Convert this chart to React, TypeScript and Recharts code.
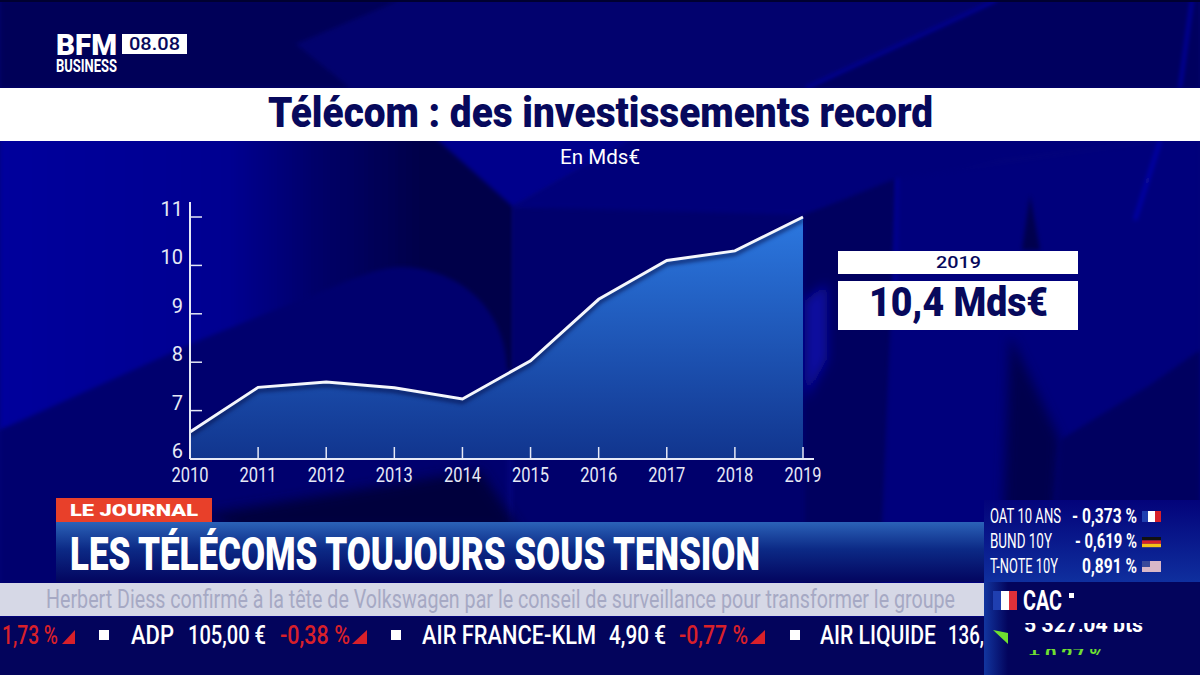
import React from 'react';
import { ComposedChart, Area, Line, XAxis, YAxis } from 'recharts';

const years = ['2010', '2011', '2012', '2013', '2014', '2015', '2016', '2017', '2018', '2019'];
const investments = [6.56, 7.48, 7.59, 7.47, 7.24, 8.03, 9.3, 10.1, 10.3, 11.0];
const yTicks = [6, 7, 8, 9, 10, 11];

const data = years.map((year, i) => ({ year, value: investments[i] }));

const font = 'Roboto, sans-serif';
const navy = '#07095c';
const axisColor = '#e6e9f6';

const XTick = ({ x, y, payload }: any) => (
  <g>
    {payload.value !== years[0] && <line x1={x} x2={x} y1={y} y2={y - 12} stroke={axisColor} strokeWidth={1.5} />}
    <text x={x} y={y + 23} textAnchor="middle" fontFamily={font} fontSize={20} fill={axisColor} textLength={37} lengthAdjust="spacingAndGlyphs">
      {payload.value}
    </text>
  </g>
);

const YTick = ({ x, y, payload }: any) => (
  <g>
    {payload.value !== yTicks[0] && <line x1={x} x2={x + 12} y1={y} y2={y} stroke={axisColor} strokeWidth={1.5} />}
    <text x={x - 7} y={y - 1} textAnchor="end" fontFamily={font} fontSize={20} fill={axisColor}>
      {payload.value}
    </text>
  </g>
);

// text squeezed to the measured width, the broadcast font is condensed
const T = ({ x, y, w, size, fill = '#fff', weight = 400, children }: any) => (
  <text x={x} y={y} fontFamily={font} fontSize={size} fontWeight={weight} fill={fill} textLength={w} lengthAdjust="spacingAndGlyphs">
    {children}
  </text>
);

const Background = () => (
  <svg width={1200} height={675} style={{ position: 'absolute', left: 0, top: 0 }}>
    <defs>
      <filter id="b20" filterUnits="userSpaceOnUse" x="-100" y="-100" width="1400" height="875"><feGaussianBlur stdDeviation="20" /></filter>
      <filter id="b6" filterUnits="userSpaceOnUse" x="-100" y="-100" width="1400" height="875"><feGaussianBlur stdDeviation="6" /></filter>
      <filter id="b2" filterUnits="userSpaceOnUse" x="-100" y="-100" width="1400" height="875"><feGaussianBlur stdDeviation="2" /></filter>
      <linearGradient id="leftGlow" x1="0" y1="0" x2="1" y2="0">
        <stop offset="0" stopColor="#00009c" />
        <stop offset="0.45" stopColor="#000090" />
        <stop offset="0.62" stopColor="#010168" />
        <stop offset="0.82" stopColor="#00004a" />
        <stop offset="1" stopColor="#00004a" />
      </linearGradient>
    </defs>
    <rect width={1200} height={675} fill="#03037a" />
    {/* top strip */}
    <rect x={0} y={0} width={1200} height={88} fill="#02026e" />
    <polygon points="0,0 400,0 296,44 350,88 0,88" fill="#020258" filter="url(#b2)" />
    <polygon points="997,0 1200,0 1200,88 806,88" fill="#02025f" filter="url(#b2)" />
    <line x1={806} y1={88} x2={997} y2={0} stroke="#0808a0" strokeWidth={3} filter="url(#b2)" />
    <line x1={1180} y1={88} x2={1192} y2={0} stroke="#0808a8" strokeWidth={3} filter="url(#b2)" />
    <rect x={0} y={0} width={1200} height={2} fill="#000030" />
    {/* left side */}
    <polygon points="0,135 513,135 513,370 0,430" fill="url(#leftGlow)" filter="url(#b2)" />
    <path d="M0,430 L200,340 L300,300 C350,280 380,266 402,267 C450,268 505,300 507,370 L507,590 L0,590 Z" fill="#02026e" filter="url(#b2)" />
    <polygon points="432,135 513,207 640,135" fill="#00008c" filter="url(#b2)" />
    <polygon points="513,207 900,178 900,590 513,590" fill="#02026c" filter="url(#b2)" />
    <polygon points="513,207 640,135 1200,135 1000,160 805,215" fill="#03037a" filter="url(#b2)" />
    <polygon points="200,515 480,470 520,530 240,530" fill="#00003e" filter="url(#b6)" />
    {/* right side */}
    <polygon points="805,215 897,178 880,590 805,590" fill="#01015e" filter="url(#b2)" />
    <polygon points="897,178 1200,135 1200,590 880,590" fill="#03037c" filter="url(#b2)" />
    <polygon points="1030,195 1022,250 1040,250" fill="#01014e" filter="url(#b2)" />
    <polygon points="1010,335 1060,440 1050,590 1000,590" fill="#01014e" filter="url(#b6)" />
    <polygon points="1060,440 1150,385 1200,350 1200,590 1050,590" fill="#020260" filter="url(#b2)" />
    <line x1={1160} y1={141} x2={1135} y2={220} stroke="#0808a8" strokeWidth={4} filter="url(#b2)" />
    <line x1={897} y1={178} x2={895} y2={300} stroke="#04049a" strokeWidth={3} filter="url(#b2)" />
    <polygon points="805,300 827,283 827,360 805,400" fill="#0707a0" filter="url(#b6)" />
  </svg>
);

const Overlay = () => (
  <svg width={1200} height={675} style={{ position: 'absolute', left: 0, top: 0 }}>
    <defs>
      <linearGradient id="band" x1="0" y1="0" x2="0" y2="1">
        <stop offset="0" stopColor="#2b62b8" />
        <stop offset="0.45" stopColor="#0c2a86" />
        <stop offset="1" stopColor="#03055f" />
      </linearGradient>
      <linearGradient id="panel" x1="0" y1="0" x2="0" y2="1">
        <stop offset="0" stopColor="#03037a" />
        <stop offset="1" stopColor="#0f2f9e" />
      </linearGradient>
      <linearGradient id="side" x1="0" y1="0" x2="1" y2="0">
        <stop offset="0" stopColor="#12359f" />
        <stop offset="1" stopColor="#03045c" />
      </linearGradient>
      <clipPath id="pts"><rect x={1020} y={623} width={130} height={9} /></clipPath>
      <clipPath id="pct"><rect x={1020} y={649} width={130} height={6} /></clipPath>
    </defs>

    {/* logo */}
    <T x={56} y={55} w={61} size={30} weight={900}>BFM</T>
    <T x={56} y={72} w={61} size={19} weight={700}>BUSINESS</T>
    <rect x={122} y={34} width={65} height={20} fill="#fff" />
    <T x={129} y={50} w={51} size={18} weight={500} fill={navy}>08.08</T>

    {/* title */}
    <rect x={0} y={88} width={1200} height={53} fill="#fff" />
    <T x={268} y={127} w={665} size={43} weight={900} fill={navy}>Télécom : des investissements record</T>
    <T x={560} y={164} w={80} size={20}>En Mds€</T>

    {/* side box */}
    <rect x={838} y={251} width={240} height={23} fill="#fff" />
    <T x={936} y={268} w={45} size={17} weight={500} fill={navy}>2019</T>
    <rect x={838} y={281} width={240} height={49} fill="#fff" />
    <T x={869} y={316} w={179} size={40} weight={900} fill={navy}>10,4 Mds€</T>

    {/* headline */}
    <rect x={56} y={522} width={930} height={60} fill="url(#band)" />
    <rect x={56} y={498} width={156} height={24} fill="#e8402a" />
    <T x={70} y={516} w={128} size={17} weight={900}>LE JOURNAL</T>
    <T x={70} y={570} w={690} size={47} weight={900}>LES TÉLÉCOMS TOUJOURS SOUS TENSION</T>

    {/* crawl */}
    <rect x={0} y={583} width={985} height={33} fill="#d6d8e6" />
    <T x={46} y={608} w={909} size={25} fill="#a6a9c4">Herbert Diess confirmé à la tête de Volkswagen par le conseil de surveillance pour transformer le groupe</T>

    {/* ticker */}
    <rect x={0} y={617} width={985} height={58} fill="#03045c" />
    <T x={2} y={644} w={56} size={25} weight={500} fill="#d8202a">1,73 %</T>
    <polygon points="62,644 75,644 75,630" fill="#d8202a" />
    <rect x={99} y={630} width={10} height={10} fill="#fff" />
    <T x={131} y={644} w={43} size={25} weight={500}>ADP</T>
    <T x={188} y={644} w={78} size={25} weight={500}>105,00 €</T>
    <T x={280} y={644} w={70} size={25} weight={500} fill="#d8202a">-0,38 %</T>
    <polygon points="352,644 367,644 367,630" fill="#d8202a" />
    <rect x={391} y={630} width={10} height={10} fill="#fff" />
    <T x={422} y={644} w={174} size={25} weight={500}>AIR FRANCE-KLM</T>
    <T x={609} y={644} w={57} size={25} weight={500}>4,90 €</T>
    <T x={679} y={644} w={69} size={25} weight={500} fill="#d8202a">-0,77 %</T>
    <polygon points="750,644 765,644 765,630" fill="#d8202a" />
    <rect x={790} y={630} width={10} height={10} fill="#fff" />
    <T x={820} y={644} w={116} size={25} weight={500}>AIR LIQUIDE</T>
    <T x={948} y={644} w={36} size={25} weight={500}>136,</T>

    {/* rates panel */}
    <rect x={984} y={500} width={216} height={82} fill="url(#panel)" />
    <rect x={984} y={582} width={216} height={93} fill="#03045c" />
    <rect x={984} y={582} width={24} height={93} fill="url(#side)" />
    <T x={990} y={523} w={71} size={20}>OAT 10 ANS</T>
    <T x={1072} y={523} w={65} size={21} weight={700}>- 0,373 %</T>
    <rect x={1142} y={511} width={6} height={11} fill="#1f3fb0" />
    <rect x={1148} y={511} width={7} height={11} fill="#fff" />
    <rect x={1155} y={511} width={6} height={11} fill="#d8202a" />
    <T x={990} y={548} w={62} size={20}>BUND 10Y</T>
    <T x={1075} y={548} w={62} size={21} weight={700}>- 0,619 %</T>
    <rect x={1142} y={537} width={19} height={3.4} fill="#111" />
    <rect x={1142} y={540.4} width={19} height={3.4} fill="#d8202a" />
    <rect x={1142} y={543.8} width={19} height={3.4} fill="#f2c218" />
    <T x={990} y={573} w={68} size={20}>T-NOTE 10Y</T>
    <T x={1082} y={573} w={55} size={21} weight={700}>0,891 %</T>
    <rect x={1142} y={561} width={19} height={11} fill="#d9b8c8" />
    <rect x={1142} y={561} width={8} height={6} fill="#3a4a9a" />

    <rect x={993} y={591} width={8} height={19} fill="#1f3fb0" />
    <rect x={1001} y={591} width={8} height={19} fill="#fff" />
    <rect x={1009} y={591} width={8} height={19} fill="#e0303a" />
    <T x={1023} y={610} w={39} size={27} weight={700}>CAC</T>
    <rect x={1069} y={593} width={5} height={5} fill="#fff" />
    <g clipPath="url(#pts)">
      <T x={1024} y={632} w={119} size={22} weight={700}>5 327,04 pts</T>
    </g>
    <polygon points="993,630 1008,633 1008,644" fill="#6fe030" />
    <g clipPath="url(#pct)">
      <T x={1029} y={663} w={75} size={22} weight={700} fill="#6fe030">+ 0,27 %</T>
    </g>
  </svg>
);

const App = () => (
  <div style={{ position: 'absolute', left: 0, top: 0, width: 1200, height: 675, overflow: 'hidden' }}>
    <Background />
    <div style={{ position: 'absolute', left: 0, top: 0 }}>
      <ComposedChart width={1200} height={675} data={data} margin={{ top: 202, right: 386, bottom: 215, left: 189 }}>
        <defs>
          <linearGradient id="areaFill" x1="0" y1="0" x2="0" y2="1">
            <stop offset="0" stopColor="#2c78e0" />
            <stop offset="1" stopColor="#11358e" />
          </linearGradient>
        </defs>
        <XAxis
          dataKey="year"
          scale="point"
          padding={{ left: 0, right: 11 }}
          height={1}
          interval={0}
          tickLine={false}
          tickSize={0}
          tickMargin={0}
          axisLine={{ stroke: axisColor, strokeWidth: 2 }}
          tick={XTick}
        />
        <YAxis
          type="number"
          domain={[6, 11.31]}
          ticks={yTicks}
          width={1}
          interval={0}
          tickLine={false}
          tickSize={0}
          tickMargin={0}
          axisLine={{ stroke: axisColor, strokeWidth: 2 }}
          tick={YTick}
        />
        <Area dataKey="value" type="linear" stroke="none" fill="url(#areaFill)" fillOpacity={1} isAnimationActive={false} />
        <Line
          dataKey="value"
          type="linear"
          stroke="#f4f6fc"
          strokeWidth={3}
          dot={false}
          isAnimationActive={false}
          style={{ filter: 'drop-shadow(0px 3px 2px rgba(4,12,70,0.9))' }}
        />
      </ComposedChart>
    </div>
    <Overlay />
  </div>
);

export default App;
